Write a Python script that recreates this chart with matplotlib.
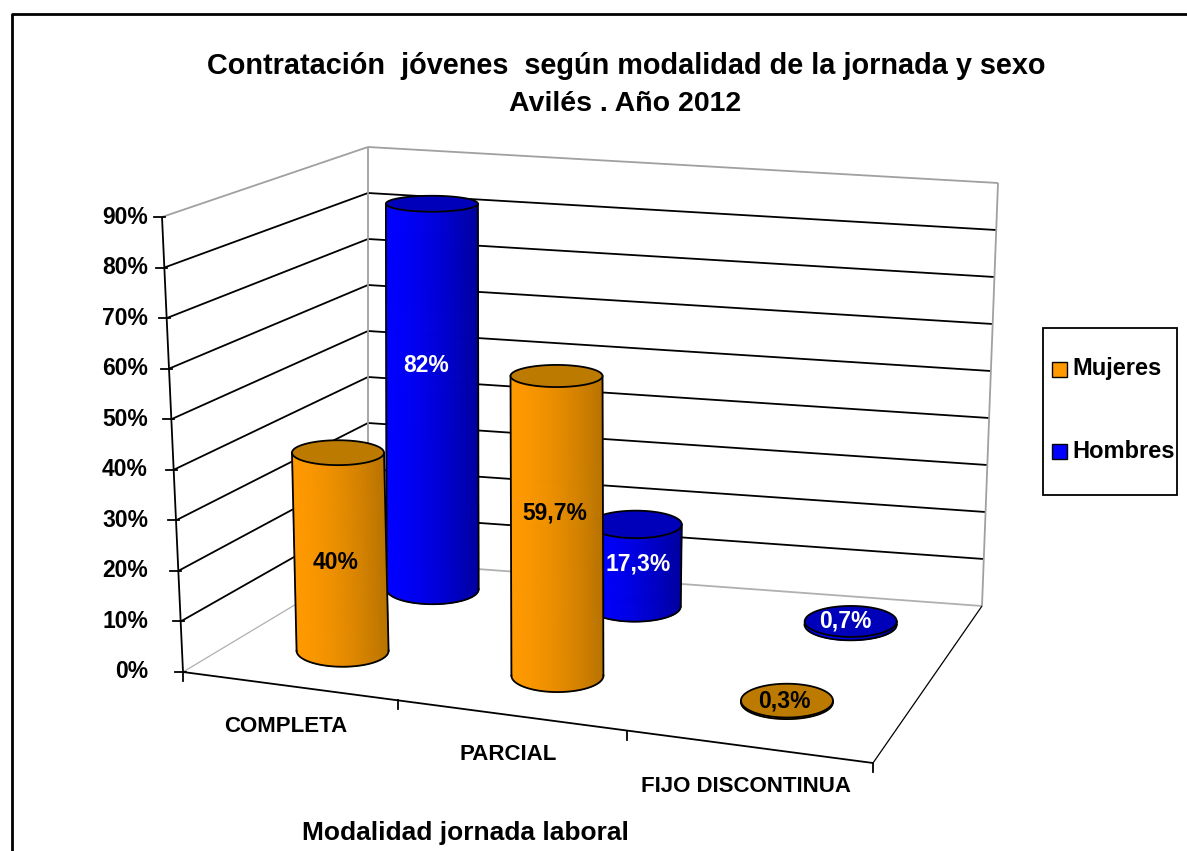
import numpy as np
import matplotlib
matplotlib.use("Agg")
import matplotlib.pyplot as plt

plt.rcParams['font.family'] = ['Liberation Sans', 'DejaVu Sans']

categories = ['COMPLETA', 'PARCIAL', 'FIJO DISCONTINUA']
mujeres = [40, 59.7, 0.3]
hombres = [82, 17.3, 0.7]
mujeres_labels = ['40%', '59,7%', '0,3%']
hombres_labels = ['82%', '17,3%', '0,7%']
y_ticks = [0, 10, 20, 30, 40, 50, 60, 70, 80, 90]

# box corners in pixels: front left, front right, back right, back left
floor_px = np.array([(183, 672), (873, 763), (982, 606), (368, 561)], dtype=float)
ceil_px = np.array([(162, 217), (885, 285), (998, 183), (368, 147)], dtype=float)
# the categories get wider towards the viewer
u_steps = [0, 0.312, 0.644, 1]


def corners(pts, u, v):
    w = np.interp(u, [0, 1, 2, 3], u_steps)
    front = pts[0] + (pts[1]-pts[0])*w
    back = pts[3] + (pts[2]-pts[3])*w
    return front + (back-front)*v


def project(u, v, h):
    a = corners(floor_px, u, v)
    b = corners(ceil_px, u, v)
    return tuple(a + (b-a)*h/90.0)


def line3d(ax, a, b, color='black', lw=1.3, z=1):
    pa, pb = project(*a), project(*b)
    ax.plot([pa[0], pb[0]], [pa[1], pb[1]], color=color, lw=lw, zorder=z, solid_capstyle='butt')


def shade(c1, c2, t):
    return tuple(np.array(c1)*(1-t) + np.array(c2)*t)


def cylinder(ax, cat, depth, value, side, dark, top, z):
    cx0, cy0 = project(cat+0.5, depth, 0)
    cx1, cy1 = project(cat+0.5, depth, value)
    rx = 46
    ry0 = 4.3 + 0.018*cy0
    ry1 = 4.3 + 0.018*cy1
    n = 46
    xs = np.linspace(-1, 1, n+1)
    for i in range(n):
        t = (i+0.5)/n
        ys = np.linspace(xs[i], xs[i+1], 3)
        bot = cy0 + ry0*np.sqrt(1-ys**2)
        upp = cy1 + ry1*np.sqrt(1-ys**2)
        col = shade(side, dark, t**1.6)
        ax.fill(np.r_[cx1 + rx*ys, (cx0 + rx*ys)[::-1]], np.r_[upp, bot[::-1]], facecolor=col,
                edgecolor=col, lw=0.8, zorder=z)
    ang = np.linspace(0, np.pi, 60)
    ax.plot(cx0 + rx*np.cos(ang), cy0 + ry0*np.sin(ang), color='black', lw=1.3, zorder=z+1)
    ax.plot([cx0-rx, cx1-rx], [cy0, cy1], color='black', lw=1.3, zorder=z+1)
    ax.plot([cx0+rx, cx1+rx], [cy0, cy1], color='black', lw=1.3, zorder=z+1)
    ang = np.linspace(0, 2*np.pi, 80)
    ax.fill(cx1 + rx*np.cos(ang), cy1 + ry1*np.sin(ang), facecolor=top, edgecolor='black', lw=1.3, zorder=z+1)


fig = plt.figure(figsize=(11.87, 8.51), dpi=100)
ax = fig.add_axes([0, 0, 1, 1])
ax.set_xlim(0, 1187)
ax.set_ylim(851, 0)
ax.axis('off')

ax.plot([12, 12, 1187], [851, 14, 14], color='black', lw=2)

ax.text(626, 66, 'Contratación  jóvenes  según modalidad de la jornada y sexo', ha='center', va='center',
        fontsize=20.8, fontweight='bold')
ax.text(625, 104, 'Avilés . Año 2012', ha='center', va='center', fontsize=20.5, fontweight='bold')

# walls and grid
for t in y_ticks:
    col = '#a0a0a0' if t in (0, 90) else 'black'
    if t > 0:
        line3d(ax, (0, 0, t), (0, 1, t), col)
        line3d(ax, (0, 1, t), (3, 1, t), col)
    fx, fy = project(0, 0, t)
    ax.plot([fx-8, fx+3], [fy, fy], color='black', lw=1.3)
    ax.text(148, fy, f'{t}%', ha='right', va='center', fontsize=16.5, fontweight='bold')
line3d(ax, (0, 0, 0), (0, 1, 0), '#b0b0b0', 0.9)
line3d(ax, (0, 1, 0), (3, 1, 0), '#b0b0b0', 1.3)
line3d(ax, (0, 1, 0), (0, 1, 90), '#a0a0a0', 1.3)
line3d(ax, (3, 1, 0), (3, 1, 90), '#a0a0a0', 1.3)
line3d(ax, (0, 0, 0), (0, 0, 90))
line3d(ax, (0, 0, 0), (3, 0, 0))
line3d(ax, (3, 0, 0), (3, 1, 0), 'black', 0.9)

for i in range(4):
    x, y = project(i, 0, 0)
    ax.plot([x, x], [y, y+9], color='black', lw=1.3)

# bars, back row first
side_o, dark_o, top_o = (1, 0.6, 0), (0.72, 0.45, 0), '#bd7a00'
side_b, dark_b, top_b = (0, 0, 1), (0, 0, 0.62), '#0000bb'
depth_m, depth_h = 0.30, 0.82
z = 3
for i, v in enumerate(hombres):
    cylinder(ax, i, depth_h, v, side_b, dark_b, top_b, z)
    z += 2
for i, v in enumerate(mujeres):
    cylinder(ax, i, depth_m, v, side_o, dark_o, top_o, z)
    z += 2

# labels sit a little off the bar middle
hombres_off = [(-6, -31), (3, -1), (-5, -2)]
mujeres_off = [(-5, 11), (-2, -13), (-3, 0)]
for i, (v, s) in enumerate(zip(hombres, hombres_labels)):
    x, y = project(i+0.5, depth_h, v*0.5)
    ax.text(x+hombres_off[i][0], y+hombres_off[i][1], s, color='white', ha='center', va='center',
            fontsize=16.5, fontweight='bold', zorder=40)
for i, (v, s) in enumerate(zip(mujeres, mujeres_labels)):
    x, y = project(i+0.5, depth_m, v*0.5)
    ax.text(x+mujeres_off[i][0], y+mujeres_off[i][1], s, color='black', ha='center', va='center',
            fontsize=16.5, fontweight='bold', zorder=40)

cat_x = [286, 508, 746]
cat_y = [727, 755, 786]
for c, x, y in zip(categories, cat_x, cat_y):
    ax.text(x, y, c, ha='center', va='center', fontsize=16, fontweight='bold')

ax.text(465, 833, 'Modalidad jornada laboral', ha='center', va='center', fontsize=19, fontweight='bold')

# legend box
ax.fill([1043, 1177, 1177, 1043], [328, 328, 495, 495], facecolor='white', edgecolor='black', lw=1.3)
for y, s, c in [(369, 'Mujeres', '#ff9900'), (451, 'Hombres', '#0000ff')]:
    ax.fill([1052, 1067, 1067, 1052], [y-7, y-7, y+8, y+8], facecolor=c, edgecolor='black', lw=1)
    ax.text(1072, y, s, ha='left', va='center', fontsize=17, fontweight='bold')

fig.savefig('out.png', dpi=100)
